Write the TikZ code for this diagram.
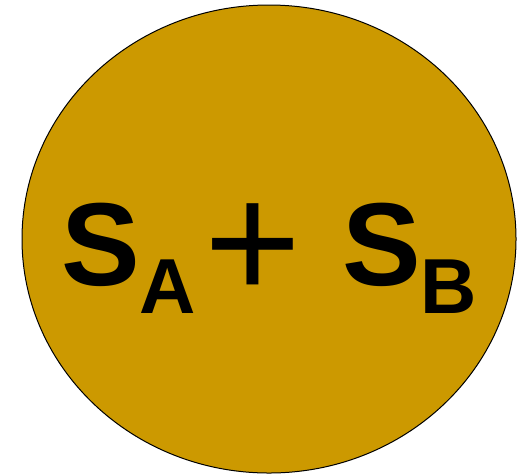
\documentclass[tikz,border=0pt]{standalone}
\usepackage{fontspec}
\setmainfont{Liberation Sans}
\usetikzlibrary{shapes.geometric}
\definecolor{gold}{HTML}{CC9900}

\begin{document}
\begin{tikzpicture}[x=1pt, y=-1pt,
        cell/.style={ellipse, draw=black, line width=1pt, fill=gold, minimum width=494pt, minimum height=468pt, inner sep=0pt},
        big/.style={inner sep=0pt, anchor=base west, font=\fontsize{118}{118}\selectfont\bfseries},
        sub/.style={inner sep=0pt, anchor=base west, font=\fontsize{78}{78}\selectfont\bfseries},
        op/.style={inner sep=0pt, anchor=base, font=\fontsize{166}{166}\selectfont}
    ]
        \useasboundingbox (0,0) rectangle (529,475);
        \node[cell] (sum) at (269,239) {};

        \node[big] (sa) at (61,285) {S};
        \node[sub] (a) at (139,313) {A};
        \node[op] (plus) at (253,299) {+};
        \node[big] (sb) at (342,285) {S};
        \node[sub] (b) at (420,313) {B};
    \end{tikzpicture}
\end{document}
